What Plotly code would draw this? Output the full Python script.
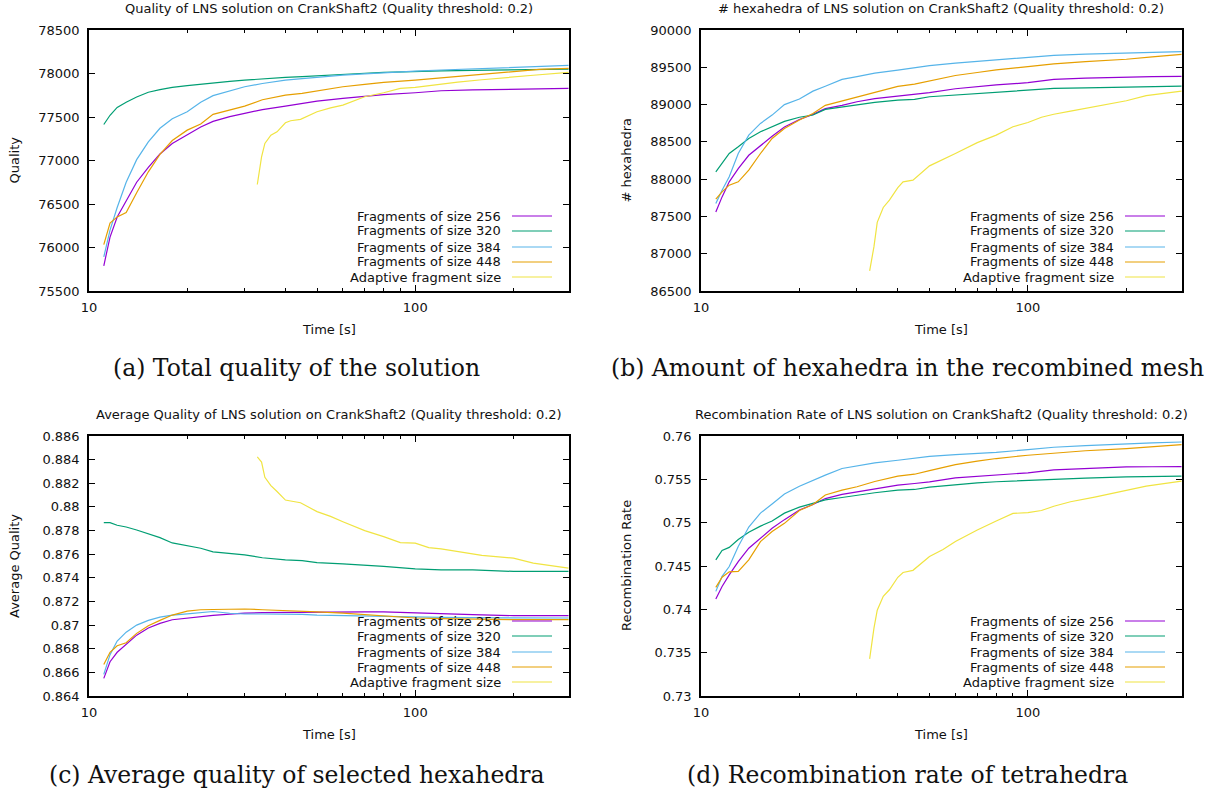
import math
import plotly.graph_objects as go

# ---------------- data ----------------
T_FIXED = [11.1, 11.6, 12.2, 13.0, 14.0, 15.2, 16.5, 18.0, 20, 22, 24, 27, 30, 34, 40, 45,
           50, 60, 70, 80, 100, 120, 150, 200, 240, 295]
T_ADAPT = [32.8, 33.8, 34.6, 36.1, 37.7, 40, 41.5, 44.5, 50, 55, 60, 70, 80, 90, 100, 110,
           120, 135, 160, 200, 230, 295]

SERIES_NAMES = ["Fragments of size 256", "Fragments of size 320", "Fragments of size 384",
                "Fragments of size 448", "Adaptive fragment size"]
SERIES_COLORS = ["#9400d3", "#009e73", "#56b4e9", "#e69f00", "#f0e442"]

QUALITY_256 = [75790, 76120, 76350, 76540, 76750, 76920, 77075, 77195, 77292, 77385, 77450, 77505,
               77541, 77585, 77625, 77655, 77683, 77714, 77735, 77758, 77779, 77802, 77812, 77821,
               77826, 77829]
QUALITY_320 = [77414, 77520, 77610, 77670, 77730, 77785, 77815, 77840, 77860, 77878, 77893, 77910,
               77924, 77940, 77955, 77965, 77975, 77994, 78003, 78012, 78024, 78030, 78036, 78040,
               78046, 78051]
QUALITY_384 = [75891, 76200, 76460, 76750, 77010, 77215, 77370, 77480, 77560, 77670, 77745, 77800,
               77848, 77885, 77924, 77940, 77955, 77982, 77995, 78010, 78028, 78040, 78055, 78070,
               78082, 78093]
QUALITY_448 = [76033, 76280, 76352, 76402, 76630, 76870, 77070, 77230, 77349, 77420, 77530, 77580,
               77625, 77698, 77752, 77772, 77802, 77848, 77875, 77898, 77924, 77950, 77980, 78017,
               78048, 78059]
QUALITY_ADAPT = [76724, 77042, 77196, 77292, 77330, 77434, 77457, 77473, 77560, 77605, 77637, 77733,
                 77779, 77829, 77840, 77860, 77877, 77900, 77928, 77955, 77980, 78013]

HEXA_256 = [87560, 87762, 87964, 88140, 88320, 88450, 88575, 88700, 88800, 88868, 88945, 88990,
            89038, 89080, 89114, 89138, 89159, 89212, 89240, 89264, 89293, 89338, 89355, 89373,
            89376, 89378]
HEXA_320 = [88098, 88219, 88344, 88434, 88545, 88635, 88705, 88775, 88830, 88860, 88935, 88965,
            88993, 89030, 89060, 89069, 89105, 89127, 89145, 89160, 89194, 89217, 89225, 89239,
            89244, 89248]
HEXA_384 = [87673, 87852, 88031, 88344, 88590, 88747, 88859, 89000, 89074, 89180, 89245, 89338,
            89374, 89422, 89463, 89494, 89521, 89555, 89580, 89600, 89628, 89660, 89676, 89688,
            89698, 89709]
HEXA_448 = [87731, 87829, 87919, 87964, 88121, 88344, 88545, 88680, 88792, 88880, 88990, 89050,
            89096, 89170, 89245, 89275, 89320, 89390, 89430, 89465, 89508, 89545, 89575, 89608,
            89640, 89673]
HEXA_ADAPT = [86769, 87091, 87420, 87620, 87720, 87887, 87964, 87986, 88178, 88260, 88344, 88490,
              88590, 88702, 88760, 88830, 88870, 88912, 88975, 89051, 89120, 89181]

AVGQ_256 = [0.86549, 0.86690, 0.86770, 0.86836, 0.86915, 0.86975, 0.87015, 0.87045, 0.87060,
            0.87076, 0.87082, 0.87092, 0.87102, 0.87105, 0.87108, 0.87110, 0.87110, 0.87111,
            0.87112, 0.87112, 0.87102, 0.87095, 0.87088, 0.87080, 0.87080, 0.87080]
AVGQ_320 = [0.87867, 0.87867, 0.87845, 0.87830, 0.87805, 0.87770, 0.87740, 0.87695, 0.87673,
            0.87650, 0.87620, 0.87605, 0.87594, 0.87570, 0.87552, 0.87546, 0.87528, 0.87518,
            0.87508, 0.87496, 0.87476, 0.87468, 0.87468, 0.87454, 0.87454, 0.87454]
AVGQ_384 = [0.86583, 0.86750, 0.86865, 0.86940, 0.87000, 0.87040, 0.87068, 0.87085, 0.87095,
            0.87105, 0.87115, 0.87100, 0.87094, 0.87094, 0.87094, 0.87090, 0.87085, 0.87080,
            0.87076, 0.87072, 0.87069, 0.87066, 0.87063, 0.87060, 0.87060, 0.87060]
AVGQ_448 = [0.86667, 0.86770, 0.86825, 0.86850, 0.86930, 0.86995, 0.87040, 0.87085, 0.87118,
            0.87130, 0.87132, 0.87134, 0.87136, 0.87130, 0.87125, 0.87120, 0.87112, 0.87102,
            0.87090, 0.87080, 0.87060, 0.87055, 0.87050, 0.87046, 0.87046, 0.87046]
AVGQ_ADAPT = [0.88423, 0.88380, 0.88250, 0.88180, 0.88130, 0.88058, 0.88050, 0.88035, 0.87960,
              0.87920, 0.87875, 0.87799, 0.87749, 0.87698, 0.87693, 0.87655, 0.87645, 0.87620,
              0.87590, 0.87566, 0.87524, 0.87482]

RATE_256 = [0.74120, 0.74264, 0.74398, 0.74550, 0.74705, 0.74820, 0.74935, 0.75035, 0.75146,
            0.75210, 0.75278, 0.75326, 0.75356, 0.75392, 0.75433, 0.75452, 0.75471, 0.75517,
            0.75535, 0.75550, 0.75575, 0.75610, 0.75628, 0.75644, 0.75645, 0.75646]
RATE_320 = [0.74571, 0.74680, 0.74715, 0.74805, 0.74890, 0.74960, 0.75020, 0.75110, 0.75180,
            0.75220, 0.75262, 0.75290, 0.75318, 0.75345, 0.75375, 0.75383, 0.75410, 0.75440,
            0.75458, 0.75472, 0.75490, 0.75502, 0.75515, 0.75529, 0.75533, 0.75536]
RATE_384 = [0.74207, 0.74380, 0.74494, 0.74724, 0.74950, 0.75110, 0.75215, 0.75330, 0.75420,
            0.75490, 0.75548, 0.75625, 0.75651, 0.75690, 0.75720, 0.75745, 0.75766, 0.75785,
            0.75798, 0.75810, 0.75843, 0.75870, 0.75890, 0.75912, 0.75920, 0.75931]
RATE_448 = [0.74253, 0.74370, 0.74433, 0.74437, 0.74571, 0.74782, 0.74897, 0.74992, 0.75140,
            0.75210, 0.75320, 0.75375, 0.75414, 0.75475, 0.75536, 0.75559, 0.75600, 0.75670,
            0.75710, 0.75740, 0.75778, 0.75800, 0.75830, 0.75854, 0.75875, 0.75900]
RATE_ADAPT = [0.73429, 0.73780, 0.73990, 0.74150, 0.74226, 0.74370, 0.74425, 0.74450, 0.74609,
              0.74690, 0.74782, 0.74916, 0.75020, 0.75107, 0.75115, 0.75140, 0.75190, 0.75241,
              0.75295, 0.75375, 0.75421, 0.75479]

X_TICKS = [10, 100]
X_TICK_TEXT = ["10", "100"]
X_MINOR = [20, 30, 40, 50, 60, 70, 80, 90, 200]
X_MAX = 296

QUALITY_TICKS = [75500, 76000, 76500, 77000, 77500, 78000, 78500]
HEXA_TICKS = [86500, 87000, 87500, 88000, 88500, 89000, 89500, 90000]
AVGQ_TICKS = [0.864, 0.866, 0.868, 0.870, 0.872, 0.874, 0.876, 0.878, 0.880, 0.882, 0.884, 0.886]
AVGQ_TICK_TEXT = ["0.864", "0.866", "0.868", "0.87", "0.872", "0.874", "0.876", "0.878",
                  "0.88", "0.882", "0.884", "0.886"]
RATE_TICKS = [0.73, 0.735, 0.74, 0.745, 0.75, 0.755, 0.76]
RATE_TICK_TEXT = ["0.73", "0.735", "0.74", "0.745", "0.75", "0.755", "0.76"]

TITLES = ["Quality of LNS solution on CrankShaft2 (Quality threshold: 0.2)",
          "# hexahedra of LNS solution on CrankShaft2 (Quality threshold: 0.2)",
          "Average Quality of LNS solution on CrankShaft2 (Quality threshold: 0.2)",
          "Recombination Rate of LNS solution on CrankShaft2 (Quality threshold: 0.2)"]
Y_LABELS = ["Quality", "# hexahedra", "Average Quality", "Recombination Rate"]
X_LABEL = "Time [s]"
CAPTIONS = ["(a) Total quality of the solution",
            "(b) Amount of hexahedra in the recombined mesh",
            "(c) Average quality of selected hexahedra",
            "(d) Recombination rate of tetrahedra"]

# ---------------- layout ----------------
W, H = 1212, 796
SANS = "DejaVu Sans"
SERIF = "DejaVu Serif"
TXT = "#111111"

panels = [
    dict(series=[QUALITY_256, QUALITY_320, QUALITY_384, QUALITY_448, QUALITY_ADAPT],
         yr=[75500, 78500], yt=QUALITY_TICKS, ytt=[str(v) for v in QUALITY_TICKS],
         box=(89, 569, 30, 291), ylab_x=14, cap_x=296, cap_y=368),
    dict(series=[HEXA_256, HEXA_320, HEXA_384, HEXA_448, HEXA_ADAPT],
         yr=[86500, 90000], yt=HEXA_TICKS, ytt=[str(v) for v in HEXA_TICKS],
         box=(701, 1182, 30, 291), ylab_x=626, cap_x=907, cap_y=368),
    dict(series=[AVGQ_256, AVGQ_320, AVGQ_384, AVGQ_448, AVGQ_ADAPT],
         yr=[0.864, 0.886], yt=AVGQ_TICKS, ytt=AVGQ_TICK_TEXT,
         box=(89, 569, 436, 696), ylab_x=14, cap_x=297, cap_y=775),
    dict(series=[RATE_256, RATE_320, RATE_384, RATE_448, RATE_ADAPT],
         yr=[0.73, 0.76], yt=RATE_TICKS, ytt=RATE_TICK_TEXT,
         box=(701, 1182, 436, 696), ylab_x=626, cap_x=907, cap_y=775),
]

LEGEND_OFFSETS = [75, 60, 44, 29, 14]   # px above plot bottom

def px(x):
    return x / W

def py(y):
    return 1 - y / H

fig = go.Figure()
annotations = []
shapes = []

for i, p in enumerate(panels):
    k = "" if i == 0 else str(i + 1)
    l, r, t, b = p["box"]
    for j, ys in enumerate(p["series"]):
        xs = T_ADAPT if j == 4 else T_FIXED
        fig.add_trace(go.Scatter(
            x=xs, y=ys, mode="lines", name=SERIES_NAMES[j], showlegend=False,
            line=dict(color=SERIES_COLORS[j], width=1.2),
            xaxis="x" + k, yaxis="y" + k, hoverinfo="skip"))

    axis_common = dict(showline=True, linecolor="black", linewidth=1.5, mirror="ticks",
                       ticks="inside", tickcolor="black", tickwidth=1, showgrid=False,
                       zeroline=False, automargin=False,
                       tickfont=dict(family=SANS, size=13, color=TXT))
    fig.layout["xaxis" + k] = dict(
        axis_common, domain=[px(l), px(r)], anchor="y" + k, type="log",
        range=[1, math.log10(X_MAX)], tickmode="array", tickvals=X_TICKS,
        ticktext=X_TICK_TEXT, ticklen=6, ticklabelstandoff=4,
        minor=dict(tickmode="array", tickvals=X_MINOR, ticks="inside", ticklen=3,
                   tickcolor="black", tickwidth=1, showgrid=False))
    fig.layout["yaxis" + k] = dict(
        axis_common, domain=[py(b), py(t)], anchor="x" + k, range=p["yr"],
        tickmode="array", tickvals=p["yt"], ticktext=p["ytt"], ticklen=6,
        ticklabelstandoff=5)

    cx = (l + r) / 2
    annotations.append(dict(text=TITLES[i], x=px(cx), y=py(t - 22), xref="paper", yref="paper",
                            xanchor="center", yanchor="middle", showarrow=False,
                            font=dict(family=SANS, size=13, color=TXT)))
    annotations.append(dict(text=X_LABEL, x=px(cx), y=py(b + 38), xref="paper", yref="paper",
                            xanchor="center", yanchor="middle", showarrow=False,
                            font=dict(family=SANS, size=13, color=TXT)))
    annotations.append(dict(text=Y_LABELS[i], x=px(p["ylab_x"]), y=py((t + b) / 2),
                            xref="paper", yref="paper", xanchor="center", yanchor="middle",
                            textangle=-90, showarrow=False,
                            font=dict(family=SANS, size=13, color=TXT)))
    annotations.append(dict(text=CAPTIONS[i], x=px(p["cap_x"]), y=py(p["cap_y"]),
                            xref="paper", yref="paper", xanchor="center", yanchor="middle",
                            showarrow=False, font=dict(family=SERIF, size=23.5, color=TXT)))
    # gnuplot-style key: right-aligned text with sample line to its right
    for j, name in enumerate(SERIES_NAMES):
        yy = b - LEGEND_OFFSETS[j]
        annotations.append(dict(text=name, x=px(r - 66), y=py(yy), xref="paper", yref="paper",
                                xanchor="right", yanchor="middle", showarrow=False,
                                font=dict(family=SANS, size=13, color=TXT)))
        shapes.append(dict(type="line", xref="paper", yref="paper",
                           x0=px(r - 57), x1=px(r - 17), y0=py(yy), y1=py(yy),
                           line=dict(color=SERIES_COLORS[j], width=1.2)))

fig.update_layout(width=W, height=H, margin=dict(l=0, r=0, t=0, b=0, pad=0, autoexpand=False),
                  autosize=False,
                  paper_bgcolor="white", plot_bgcolor="white",
                  annotations=annotations, shapes=shapes, showlegend=False)

fig.write_html("out.html",
               config={"displayModeBar": False, "responsive": False},
               post_script="document.body.style.margin='0px';"
                           "document.body.style.padding='0px';"
                           "document.body.style.overflow='hidden';")
